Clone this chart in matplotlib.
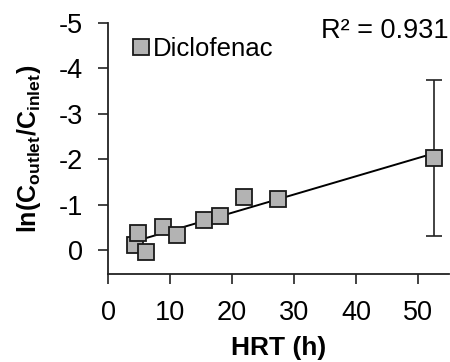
import numpy as np
import matplotlib.pyplot as plt

plt.rcParams['font.family'] = ['Liberation Sans', 'DejaVu Sans']
plt.rcParams['mathtext.fontset'] = 'custom'
plt.rcParams['mathtext.rm'] = 'Liberation Sans'
plt.rcParams['mathtext.bf'] = 'Liberation Sans:bold'

# data
hrt = [4.3, 4.9, 6.1, 8.8, 11.2, 15.5, 18.0, 21.9, 27.4, 52.5]
ln_ratio = [-0.11, -0.37, 0.04, -0.51, -0.33, -0.66, -0.75, -1.17, -1.12, -2.03]
err_lo = [0.15, 0, 0, 0, 0, 0, 0, 0, 0, 1.71]
err_hi = [0.15, 0, 0, 0, 0, 0, 0, 0, 0, 1.72]
r2_text = 'R² = 0.931'
x_ticks = [0, 10, 20, 30, 40, 50]
y_ticks = [0, -1, -2, -3, -4, -5]

fig = plt.figure(figsize=(4.5, 3.62), dpi=100)
ax = fig.add_axes([0.24, 0.243, 0.758, 0.694])

ax.errorbar(hrt, ln_ratio, yerr=[err_lo, err_hi], fmt='none', ecolor='#222222',
            elinewidth=1.2, capsize=5.5, capthick=1.2, zorder=2)

# linear trendline
k, b = np.polyfit(hrt, ln_ratio, 1)
xx = np.array([min(hrt), max(hrt)])
ax.plot(xx, k * xx + b, color='black', lw=1.4, zorder=3)

ax.plot(hrt, ln_ratio, 's', ms=11, mfc='#b3b3b3', mec='#1a1a1a', mew=1.3,
        zorder=4, label='Diclofenac')

ax.set_xlim(0, 55)
ax.set_ylim(0.53, -5)
ax.set_xticks(x_ticks)
ax.set_yticks(y_ticks)
ax.set_yticklabels([str(t) for t in y_ticks])
ax.tick_params(labelsize=19.5, length=7, width=1.2, direction='out', colors='#222222',
               labelcolor='black')
ax.tick_params(axis='x', pad=12)
ax.tick_params(axis='y', pad=11)
for s in ['top', 'right']:
    ax.spines[s].set_visible(False)
for s in ['left', 'bottom']:
    ax.spines[s].set_linewidth(1.3)
    ax.spines[s].set_color('#222222')

ax.set_xlabel('HRT (h)', fontsize=19, fontweight='bold', labelpad=0)
ax.xaxis.set_label_coords(0.5, -0.245)
ax.set_ylabel(r'$\mathbf{ln(C_{outlet}/C_{inlet})}$', fontsize=18)
ax.yaxis.set_label_coords(-0.19, 0.5)

ax.legend(loc='upper left', bbox_to_anchor=(0.02, 0.985), frameon=False, fontsize=18.5,
          handletextpad=-0.1, handlelength=1.2, borderaxespad=0, markerscale=1.1)
ax.text(1.0, 1.02, r2_text, transform=ax.transAxes, ha='right', va='top', fontsize=19.5)

fig.savefig('out.png', dpi=100)
